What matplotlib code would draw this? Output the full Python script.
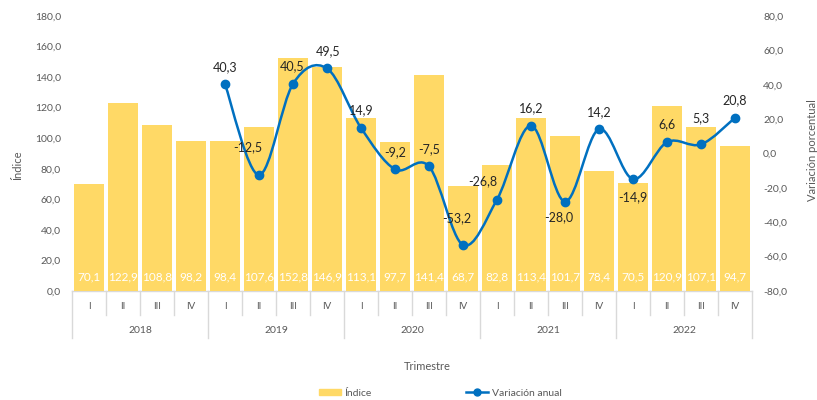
import matplotlib
matplotlib.use("Agg")
import matplotlib.pyplot as plt
from matplotlib.path import Path
from matplotlib.patches import PathPatch
from matplotlib.patches import Patch
from matplotlib.lines import Line2D

plt.rcParams['font.family'] = ['Lato', 'DejaVu Sans']

years = ['2018', '2019', '2020', '2021', '2022']
quarters = ['I', 'II', 'III', 'IV']
indice = [70.1, 122.9, 108.8, 98.2,
          98.4, 107.6, 152.8, 146.9,
          113.1, 97.7, 141.4, 68.7,
          82.8, 113.4, 101.7, 78.4,
          70.5, 120.9, 107.1, 94.7]
# annual variation starts with 2019 I
variacion = [40.3, -12.5, 40.5, 49.5,
             14.9, -9.2, -7.5, -53.2,
             -26.8, 16.2, -28.0, 14.2,
             -14.9, 6.6, 5.3, 20.8]
var_start = 4
# label offsets in pixels (dx, dy up)
var_offsets = [(0, 17), (-11, 28), (-1, 18), (1, 17),
               (0, 18), (0, 17), (0, 17), (-6, 27),
               (-14, 18), (0, 18), (-6, -16), (0, 17),
               (0, -18), (0, 18), (0, 26), (0, 18)]

bar_color = '#FFD966'
line_color = '#0070C0'
grey_txt = '#595959'
frame_col = '#D9D9D9'


def fmt(v):
    return '{:.1f}'.format(v).replace('.', ',')


fig = plt.figure(figsize=(8.17, 4.0), dpi=100)
ax = fig.add_axes([72 / 817, 1 - 291 / 400, 680 / 817, 275 / 400])
ax2 = ax.twinx()

n = len(indice)
xs = list(range(n))
ax.bar(xs, indice, width=0.86, color=bar_color, zorder=2)
ax.set_xlim(-0.5, n - 0.5)
ax.set_ylim(0, 180)
ax.set_yticks(range(0, 181, 20))
ax.set_yticklabels([fmt(v) for v in range(0, 181, 20)])
ax2.set_ylim(-80, 80)
ax2.set_yticks(range(-80, 81, 20))
ax2.set_yticklabels([fmt(v) for v in range(-80, 81, 20)])

for a in (ax, ax2):
    for s in a.spines.values():
        s.set_visible(False)
    a.tick_params(length=0, labelsize=7.5, labelcolor=grey_txt)
ax.tick_params(axis='y', pad=8)
ax2.tick_params(axis='y', pad=8)
ax.set_xticks([])

# value labels inside bars
for i, v in enumerate(indice):
    ax.annotate(fmt(v), xy=(i, 0), xytext=(0, 10), textcoords='offset points',
                ha='center', va='center', color='white', fontsize=8.5, zorder=3)

# category axis frame
ax.axhline(0, color=frame_col, lw=1, zorder=1, clip_on=False)
trans = ax.get_xaxis_transform()
for k in range(n + 1):
    x = k - 0.5
    y_end = -0.171 if k % 4 == 0 else -0.087
    ax.plot([x, x], [0, y_end], transform=trans, color=frame_col, lw=1, clip_on=False)
for i in range(n):
    ax.text(i, -0.058, quarters[i % 4], transform=trans, ha='center', va='center',
            fontsize=7, color=grey_txt)
for j, yr in enumerate(years):
    ax.text(j * 4 + 1.5, -0.145, yr, transform=trans, ha='center', va='center',
            fontsize=7.5, color=grey_txt)

# smoothed line (Catmull-Rom as cubic Bezier)
px = [var_start + i for i in range(len(variacion))]
pts = list(zip(px, variacion))
verts = [pts[0]]
codes = [Path.MOVETO]
for i in range(len(pts) - 1):
    p0 = pts[i - 1] if i > 0 else pts[i]
    p1 = pts[i]
    p2 = pts[i + 1]
    p3 = pts[i + 2] if i + 2 < len(pts) else pts[i + 1]
    c1 = (p1[0] + (p2[0] - p0[0]) / 6, p1[1] + (p2[1] - p0[1]) / 6)
    c2 = (p2[0] - (p3[0] - p1[0]) / 6, p2[1] - (p3[1] - p1[1]) / 6)
    verts += [c1, c2, p2]
    codes += [Path.CURVE4] * 3
ax2.add_patch(PathPatch(Path(verts, codes), fill=False, edgecolor=line_color,
                        lw=1.8, zorder=4))
ax2.plot(px, variacion, 'o', color=line_color, ms=6, zorder=5)
for (x, v), (dx, dy) in zip(pts, var_offsets):
    ax2.annotate(fmt(v), xy=(x, v), xytext=(dx * 0.72, dy * 0.72),
                 textcoords='offset points', ha='center', va='center',
                 fontsize=9, color='#262626', zorder=6)

# axis titles
fig.text(18 / 817, 1 - 165 / 400, 'Índice', rotation=90, ha='center', va='center',
         fontsize=8, color=grey_txt)
fig.text(812 / 817, 1 - 150 / 400, 'Variación porcentual', rotation=90,
         ha='center', va='center', fontsize=8, color=grey_txt)
fig.text(427 / 817, 1 - 366 / 400, 'Trimestre', ha='center', va='center',
         fontsize=8, color=grey_txt)

handles = [Patch(color=bar_color),
           Line2D([], [], color=line_color, marker='o', ms=5, lw=1.8)]
fig.legend(handles, ['Índice', 'Variación anual'], loc='center',
           bbox_to_anchor=(440 / 817, 1 - 393 / 400), ncol=2, frameon=False,
           fontsize=7.5, labelcolor=grey_txt, columnspacing=9, handlelength=2.2,
           handletextpad=0.3, handleheight=0.6)

fig.savefig('out.png', dpi=100)
